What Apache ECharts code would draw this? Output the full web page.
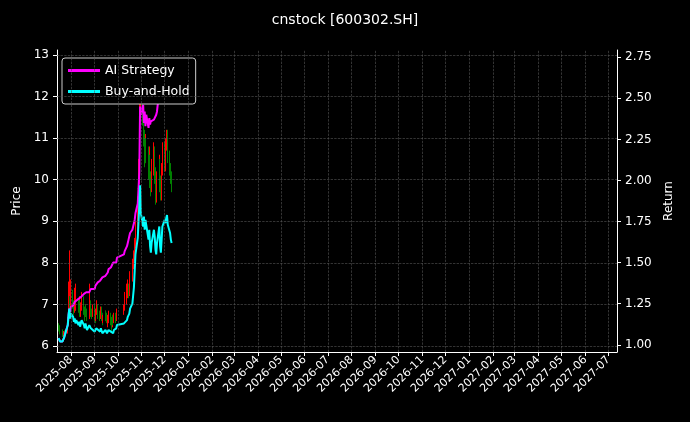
<!DOCTYPE html>
<html><head><meta charset="utf-8">
<script src="https://cdn.jsdelivr.net/npm/echarts@6/dist/echarts.min.js"></script>
<style>html,body{margin:0;background:#000}#c{width:690px;height:422px}</style></head>
<body><div id="c"></div>
<script>
const titleText = 'cnstock [600302.SH]';
const startDate = '2025-07-16';
const holidays = ['2025-10-01','2025-10-02','2025-10-03','2025-10-06','2025-10-07','2025-10-08'];
const closes = [6.45,6.40,6.35,6.30,6.28,6.32,6.30,6.35,6.60,6.95,
7.10,6.90,7.20,7.00,6.85,7.05,6.95,7.10,6.90,7.00,
6.80,6.95,7.10,6.85,6.75,6.90,6.80,6.70,6.85,6.95,
6.80,6.75,6.90,6.70,6.65,6.80,6.90,6.75,6.70,6.85,
6.70,6.60,6.65,6.75,6.70,6.60,6.65,6.70,6.60,6.55,
6.65,6.60,6.70,6.65,6.80,6.90,7.00,7.20,7.40,7.30,
7.50,7.60,7.80,7.90,8.10,8.40,8.80,9.30,10.0,10.8,
11.8,12.2,11.5,11.0,10.5,10.9,10.6,10.2,10.5,10.0,
9.8,10.3,10.6,10.1,9.7,9.5,10.0,10.4,9.9,9.6,
10.2,10.7,10.3,10.6,10.9,11.1,10.5,10.2,10.0,9.9];
const opens = [6.50,6.45,6.40,6.36,6.30,6.27,6.34,6.30,6.36,6.62,
6.95,7.12,6.88,7.22,7.00,6.84,7.06,6.94,7.12,6.88,
7.02,6.78,6.96,7.12,6.84,6.74,6.92,6.80,6.68,6.86,
6.96,6.80,6.74,6.92,6.70,6.64,6.82,6.92,6.74,6.70,
6.86,6.70,6.60,6.66,6.76,6.70,6.58,6.66,6.72,6.60,
6.54,6.66,6.58,6.72,6.64,6.82,6.90,7.00,7.22,7.42,
7.28,7.52,7.60,7.82,7.90,8.12,8.40,8.82,9.30,10.0,
10.8,11.8,12.3,11.5,11.0,10.5,10.9,10.6,10.2,10.5,
10.0,9.80,10.3,10.6,10.1,9.70,9.50,10.0,10.4,9.90,
9.60,10.2,10.7,10.3,10.6,10.9,11.1,10.5,10.2,10.0];
const highs = [6.55,6.50,6.45,6.40,6.35,6.36,6.38,6.40,6.70,7.55,
8.30,7.20,7.60,7.35,7.10,7.40,7.10,7.50,7.15,7.20,
7.10,7.05,7.30,7.20,6.95,7.00,7.00,6.90,7.00,7.50,
7.10,6.90,7.00,7.00,6.85,6.90,7.10,7.00,6.85,6.95,
6.95,6.80,6.75,6.85,6.85,6.80,6.75,6.85,6.80,6.70,
6.75,6.75,6.80,6.80,6.90,7.00,7.30,7.50,7.60,7.50,
7.70,7.80,8.00,8.10,8.30,8.60,9.00,9.60,10.5,11.3,
12.3,12.7,12.6,11.6,11.2,11.1,11.0,10.8,10.8,10.6,
10.2,10.5,10.9,10.8,10.3,10.0,10.2,10.6,10.5,10.1,
10.4,10.9,10.9,10.8,11.0,11.2,11.2,10.7,10.4,10.2];
const lows = [6.35,6.30,6.28,6.22,6.22,6.24,6.25,6.28,6.30,6.55,
6.80,6.80,6.80,6.90,6.75,6.80,6.85,6.85,6.80,6.85,
6.70,6.70,6.85,6.75,6.60,6.70,6.70,6.60,6.65,6.80,
6.70,6.65,6.70,6.60,6.55,6.60,6.75,6.65,6.60,6.65,
6.60,6.50,6.55,6.60,6.60,6.55,6.45,6.55,6.50,6.35,
6.45,6.50,6.55,6.55,6.60,6.75,6.85,7.00,7.15,7.15,
7.20,7.40,7.55,7.70,7.85,8.05,8.35,8.75,9.20,9.90,
10.7,11.5,11.3,10.8,10.3,10.4,10.4,10.0,10.0,9.80,
9.60,9.70,10.1,9.90,9.50,9.40,9.45,9.90,9.70,9.50,
9.50,10.1,10.2,10.2,10.5,10.7,10.4,10.1,9.90,9.70];
const aiReturns = [1.04,1.03,1.02,1.02,1.03,1.04,1.03,1.05,1.12,1.18,
1.22,1.20,1.23,1.24,1.25,1.26,1.27,1.26,1.28,1.29,
1.28,1.29,1.30,1.31,1.30,1.31,1.32,1.31,1.32,1.33,
1.34,1.33,1.35,1.34,1.36,1.37,1.36,1.38,1.39,1.38,
1.40,1.41,1.40,1.42,1.43,1.42,1.44,1.46,1.47,1.46,
1.48,1.50,1.51,1.50,1.53,1.55,1.57,1.60,1.62,1.64,
1.66,1.68,1.70,1.72,1.74,1.76,1.80,1.86,1.95,2.05,
2.45,2.40,2.46,2.35,2.42,2.33,2.40,2.32,2.38,2.34,
2.36,2.35,2.37,2.36,2.38,2.40,2.42,2.55,2.68,2.73];
const bhReturns = [1.04,1.03,1.02,1.02,1.03,1.04,1.03,1.05,1.12,1.18,
1.22,1.16,1.19,1.17,1.14,1.16,1.13,1.15,1.12,1.14,
1.11,1.13,1.15,1.12,1.10,1.13,1.11,1.09,1.12,1.13,
1.10,1.09,1.11,1.08,1.08,1.10,1.11,1.09,1.08,1.10,
1.09,1.07,1.08,1.09,1.08,1.07,1.07,1.09,1.08,1.07,
1.08,1.07,1.09,1.10,1.12,1.13,1.12,1.15,1.17,1.16,
1.19,1.22,1.25,1.30,1.35,1.45,1.55,1.65,1.75,1.85,
1.97,1.80,1.72,1.78,1.70,1.76,1.73,1.64,1.70,1.60,
1.56,1.62,1.70,1.66,1.58,1.55,1.62,1.72,1.60,1.56,
1.64,1.72,1.76,1.74,1.77,1.79,1.73,1.68,1.64,1.62];
const priceTicks = [6,7,8,9,10,11,12,13];
const returnTicks = [1.00,1.25,1.50,1.75,2.00,2.25,2.50,2.75];
const monthTicks = [];
for (let y=2025,m=8; y<2027 || (y===2027 && m<=7); m++) { if(m>12){m=1;y++;} monthTicks.push(Date.UTC(y,m-1,1)); }

const dates = [];
{ const hol = holidays.map(s=>Date.parse(s+'T00:00:00Z'));
  let d = new Date(startDate+'T00:00:00Z');
  while (dates.length < closes.length) { const w=d.getUTCDay(); if(w!==0&&w!==6&&!hol.includes(d.getTime())) dates.push(d.getTime()); d = new Date(d.getTime()+86400000); } }

const candle = dates.map((t,i)=>[t,opens[i],closes[i],lows[i],highs[i]]);
const ai = aiReturns.map((v,i)=>[dates[i],v]);
const bh = bhReturns.map((v,i)=>[dates[i],v]);

const fnt = 'DejaVu Sans';
const grid = {color:'#555',type:'dashed',width:0.6};
const chart = echarts.init(document.getElementById('c'));
chart.setOption({
  backgroundColor:'#000',
  animation:false,
  title:{text:titleText,left:'center',top:8,textStyle:{color:'#fff',fontSize:14,fontWeight:'normal',fontFamily:fnt}},
  grid:{left:57,right:73,top:50,bottom:70},
  legend:{left:62,top:58,orient:'vertical',backgroundColor:'#000',borderColor:'#ccc',borderWidth:1,borderRadius:3,padding:[6,6],itemGap:8,
    itemWidth:32,itemHeight:3,icon:'rect',textStyle:{color:'#fff',fontSize:12.5,fontFamily:fnt},data:['AI Strategy','Buy-and-Hold']},
  xAxis:{type:'value',min:Date.UTC(2025,6,14),max:Date.UTC(2027,6,12),
    axisLine:{lineStyle:{color:'#fff'}},
    axisTick:{customValues:monthTicks,lineStyle:{color:'#fff'},length:4},
    axisLabel:{customValues:monthTicks,rotate:45,color:'#fff',fontSize:11,fontFamily:fnt,margin:6,
      formatter:v=>{const d=new Date(v);return d.getUTCFullYear()+'-'+String(d.getUTCMonth()+1).padStart(2,'0');}},
    splitLine:{show:false}},
  yAxis:[
    {type:'value',name:'Price',nameLocation:'middle',nameGap:30,nameTextStyle:{color:'#fff',fontSize:12,fontFamily:fnt},
     min:5.856,max:13.12,
     axisLine:{show:true,lineStyle:{color:'#fff'}},
     axisTick:{show:true,customValues:priceTicks,length:4,lineStyle:{color:'#fff'}},
     axisLabel:{customValues:priceTicks,color:'#fff',fontSize:12,fontFamily:fnt,formatter:v=>String(Math.round(v))},
     splitLine:{show:false}},
    {type:'value',name:'Return',nameLocation:'middle',nameGap:44,nameTextStyle:{color:'#fff',fontSize:12,fontFamily:fnt},
     min:0.956,max:2.794,
     axisLine:{show:true,lineStyle:{color:'#fff'}},
     axisTick:{show:true,customValues:returnTicks,length:4,lineStyle:{color:'#fff'}},
     axisLabel:{customValues:returnTicks,color:'#fff',fontSize:12,fontFamily:fnt,formatter:v=>v.toFixed(2)},
     splitLine:{show:false}}
  ],
  series:[
    {type:'candlestick',yAxisIndex:0,data:candle,barMaxWidth:1,
      itemStyle:{color:'#ff0000',color0:'#008000',borderColor:'#ff0000',borderColor0:'#008000',borderWidth:1},
      markLine:{silent:true,symbol:'none',label:{show:false},lineStyle:grid,
        data:priceTicks.map(v=>({yAxis:v})).concat(monthTicks.map(v=>({xAxis:v})))}},
    {name:'AI Strategy',type:'line',yAxisIndex:1,data:ai,showSymbol:false,lineStyle:{color:'#ff00ff',width:2},itemStyle:{color:'#ff00ff'}},
    {name:'Buy-and-Hold',type:'line',yAxisIndex:1,data:bh,showSymbol:false,lineStyle:{color:'#00ffff',width:2},itemStyle:{color:'#00ffff'}}
  ]
});
</script></body></html>
